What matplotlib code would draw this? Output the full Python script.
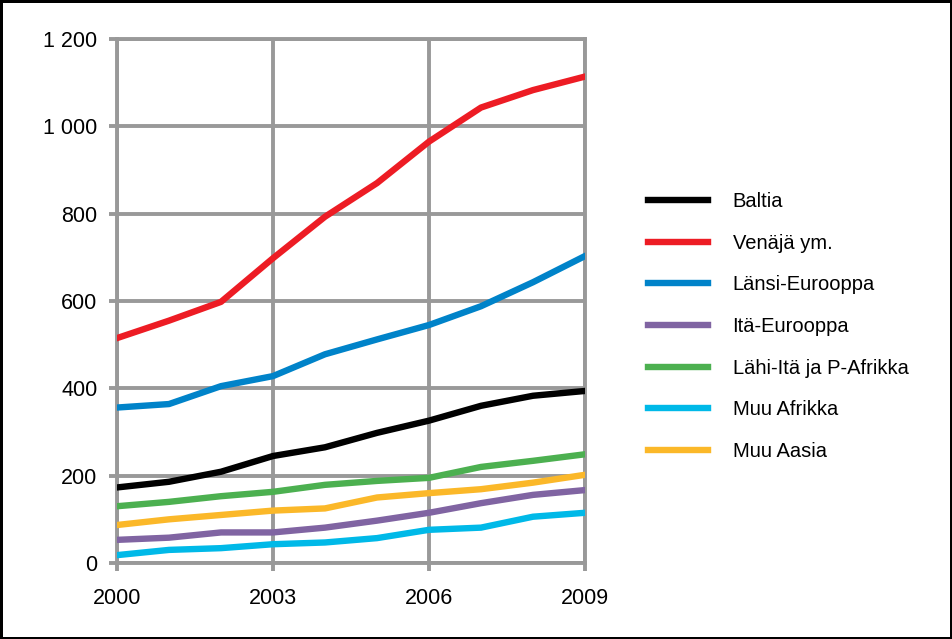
import matplotlib.pyplot as plt

plt.rcParams['font.family'] = ['Liberation Sans', 'DejaVu Sans']

years = [2000, 2001, 2002, 2003, 2004, 2005, 2006, 2007, 2008, 2009]

baltia = [173, 186, 209, 245, 265, 298, 326, 360, 383, 394]
venaja = [515, 555, 598, 698, 793, 870, 965, 1043, 1083, 1114]
lansi = [356, 364, 405, 428, 478, 512, 545, 588, 643, 703]
ita = [53, 58, 70, 70, 81, 97, 115, 137, 156, 167]
lahi_ita = [130, 140, 153, 163, 179, 188, 195, 220, 234, 249]
muu_afrikka = [18, 30, 34, 43, 47, 57, 76, 81, 106, 115]
muu_aasia = [87, 100, 110, 120, 125, 150, 160, 169, 184, 202]

series = [
    ("Baltia", baltia, "#000000"),
    ("Venäjä ym.", venaja, "#ED1C24"),
    ("Länsi-Eurooppa", lansi, "#0083C9"),
    ("Itä-Eurooppa", ita, "#8064A2"),
    ("Lähi-Itä ja P-Afrikka", lahi_ita, "#4CB050"),
    ("Muu Afrikka", muu_afrikka, "#00B9E8"),
    ("Muu Aasia", muu_aasia, "#FBB829"),
]

fig = plt.figure(figsize=(9.52, 6.39), dpi=100)
fig.patch.set_edgecolor("black")
fig.patch.set_linewidth(2.5)
ax = fig.add_axes([117 / 952, 1 - 563 / 639, (585 - 117) / 952, (563 - 39) / 639])

grid_col = "#999999"
for name, vals, col in series:
    ax.plot(years, vals, color=col, linewidth=4.6, label=name, zorder=3,
            solid_joinstyle="round")

ax.set_xlim(2000, 2009)
ax.set_ylim(0, 1200)
ax.set_xticks([2000, 2003, 2006, 2009])
ax.set_yticks(range(0, 1201, 200))
ax.set_yticklabels(["0", "200", "400", "600", "800", "1 000", "1 200"])
ax.grid(True, color=grid_col, linewidth=2.8)
for s in ax.spines.values():
    s.set_color(grid_col)
    s.set_linewidth(2.8)
ax.tick_params(color=grid_col, width=2.8, length=6, labelsize=15.5, pad=8)
ax.tick_params(axis="x", pad=12)

ax.legend(loc="center left", bbox_to_anchor=(648 / 952, 1 - 326.5 / 639),
          bbox_transform=fig.transFigure, frameon=False, fontsize=14.5,
          handlelength=3.0, handletextpad=1.2, labelspacing=1.12,
          borderpad=0, borderaxespad=0)

fig.savefig("out.png", dpi=100, edgecolor=fig.get_edgecolor())
